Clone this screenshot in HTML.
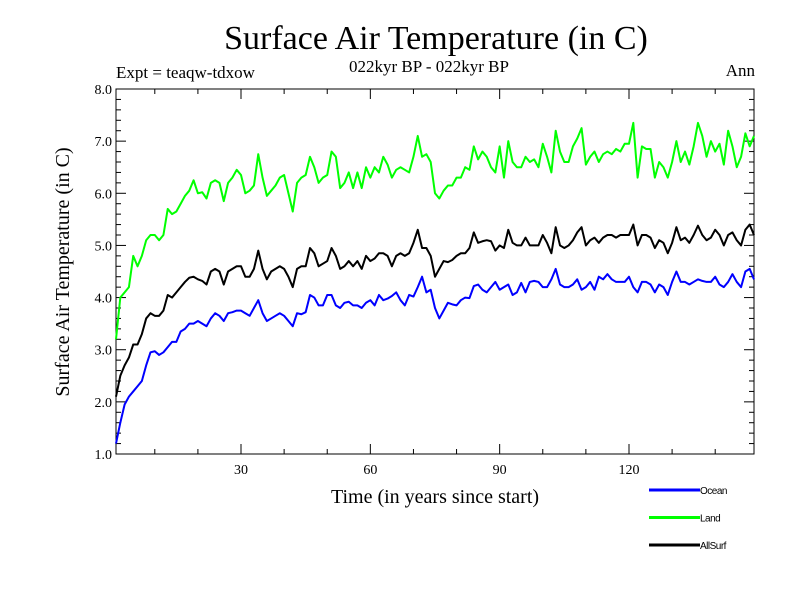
<!DOCTYPE html>
<html><head><meta charset="utf-8"><style>
body{margin:0;background:#fff}
svg text{font-family:"Liberation Serif",serif}
</style></head><body>
<svg id="chart" width="800" height="600" xmlns="http://www.w3.org/2000/svg">
<rect width="800" height="600" fill="#fff"/>
<text x="436" y="49" font-size="34" text-anchor="middle">Surface Air Temperature (in C)</text>
<text x="429" y="72" font-size="17" text-anchor="middle">022kyr BP - 022kyr BP</text>
<text x="116" y="78" font-size="17">Expt = teaqw-tdxow</text>
<text x="755" y="76" font-size="17" text-anchor="end">Ann</text>
<text x="435" y="503" font-size="20" text-anchor="middle">Time (in years since start)</text>
<text transform="translate(69,272) rotate(-90)" font-size="20" text-anchor="middle">Surface Air Temperature (in C)</text>
<g id="axes"></g>
<g id="series"></g>
<g id="legend"></g>
</svg>
<script>
const yTicks=["1.0","2.0","3.0","4.0","5.0","6.0","7.0","8.0"];
const xTicks=[30,60,90,120];
const seriesNames=["Ocean","Land","AllSurf"];
const ocean=[1.2,1.6,1.95,2.1,2.2,2.3,2.4,2.7,2.95,2.97,2.9,2.95,3.05,3.15,3.15,3.35,3.4,3.5,3.5,3.55,3.5,3.45,3.6,3.7,3.65,3.55,3.7,3.72,3.75,3.75,3.7,3.65,3.8,3.95,3.7,3.55,3.6,3.65,3.7,3.65,3.55,3.45,3.7,3.68,3.72,4.05,4.0,3.85,3.85,4.05,4.05,3.85,3.8,3.9,3.92,3.85,3.85,3.8,3.9,3.95,3.85,4.05,3.95,3.98,4.03,4.1,3.95,3.85,4.05,4.02,4.2,4.4,4.1,4.15,3.8,3.6,3.75,3.9,3.87,3.85,3.95,4.0,3.99,4.22,4.25,4.15,4.1,4.2,4.3,4.15,4.2,4.25,4.05,4.1,4.28,4.1,4.3,4.32,4.3,4.2,4.2,4.35,4.55,4.25,4.2,4.2,4.25,4.35,4.15,4.2,4.3,4.15,4.4,4.35,4.45,4.35,4.3,4.3,4.3,4.4,4.2,4.1,4.3,4.3,4.25,4.1,4.25,4.2,4.05,4.3,4.5,4.3,4.3,4.25,4.3,4.35,4.32,4.3,4.3,4.4,4.25,4.2,4.3,4.45,4.3,4.2,4.5,4.55,4.35];
const land=[3.2,4.0,4.1,4.2,4.8,4.6,4.8,5.1,5.2,5.2,5.1,5.2,5.7,5.6,5.65,5.8,5.95,6.05,6.25,6.0,6.02,5.9,6.2,6.25,6.2,5.85,6.2,6.3,6.45,6.35,6.0,6.05,6.15,6.75,6.3,5.95,6.05,6.15,6.3,6.35,6.0,5.65,6.2,6.3,6.35,6.7,6.5,6.2,6.3,6.35,6.8,6.7,6.1,6.2,6.4,6.1,6.4,6.1,6.5,6.3,6.5,6.4,6.7,6.55,6.3,6.45,6.5,6.45,6.4,6.7,7.1,6.7,6.75,6.6,6.0,5.9,6.05,6.15,6.15,6.3,6.3,6.5,6.45,6.9,6.65,6.8,6.7,6.5,6.4,6.9,6.3,7.0,6.6,6.5,6.5,6.7,6.6,6.65,6.5,6.95,6.7,6.4,7.2,6.8,6.6,6.6,6.9,7.05,7.25,6.55,6.7,6.8,6.6,6.75,6.8,6.75,6.85,6.8,6.95,6.95,7.35,6.3,6.9,6.85,6.85,6.3,6.6,6.5,6.3,6.6,7.0,6.6,6.8,6.55,6.9,7.35,7.1,6.7,7.0,6.8,6.95,6.55,7.2,6.9,6.5,6.7,7.15,6.9,7.1];
const allsurf=[2.1,2.5,2.7,2.85,3.1,3.1,3.3,3.6,3.7,3.65,3.65,3.75,4.05,4.0,4.1,4.2,4.3,4.38,4.4,4.35,4.32,4.25,4.5,4.55,4.5,4.25,4.5,4.55,4.6,4.6,4.4,4.4,4.55,4.9,4.55,4.35,4.5,4.55,4.6,4.55,4.4,4.2,4.55,4.6,4.6,4.95,4.85,4.6,4.65,4.7,4.95,4.8,4.55,4.6,4.7,4.6,4.7,4.55,4.8,4.7,4.75,4.85,4.85,4.8,4.6,4.8,4.85,4.8,4.85,5.05,5.3,4.95,4.95,4.8,4.4,4.55,4.7,4.68,4.72,4.8,4.85,4.85,4.95,5.25,5.05,5.08,5.1,5.08,4.9,5.0,4.95,5.3,5.05,5.0,5.0,5.15,5.0,5.0,5.0,5.2,5.05,4.85,5.35,5.0,4.95,5.0,5.1,5.25,5.35,5.0,5.1,5.15,5.05,5.15,5.2,5.2,5.15,5.2,5.2,5.2,5.4,5.0,5.2,5.2,5.15,4.95,5.1,5.05,4.85,5.05,5.35,5.1,5.15,5.05,5.2,5.38,5.2,5.1,5.15,5.3,5.2,5.0,5.2,5.25,5.1,5.0,5.3,5.4,5.2];

const NS="http://www.w3.org/2000/svg";
const L=116,R=754,T=89,B=454;
function xs(t){return L+(t-1)*(R-L)/148;}
function ys(v){return B-(v-1)*(B-T)/7;}
function mk(tag,attrs,parent){const e=document.createElementNS(NS,tag);for(const k in attrs)e.setAttribute(k,attrs[k]);parent.appendChild(e);return e;}
const ax=document.getElementById('axes');
const frame=mk('rect',{x:L,y:T,width:R-L,height:B-T,fill:'none',stroke:'#000','stroke-width':1},ax);


// y ticks
for(let v=1;v<=8.001;v+=0.2){
  const major=Math.abs(v-Math.round(v))<0.01;
  const len=major?10:5;const y=ys(v);
  const t1=mk('line',{x1:L,x2:L+len,y1:y,y2:y,stroke:'#000'},ax);
  
  
  const t2=mk('line',{x1:R-len,x2:R,y1:y,y2:y,stroke:'#000'},ax);
  
  
}
yTicks.forEach(s=>{
  const t=mk('text',{x:L-4,y:ys(parseFloat(s))+5,'font-size':14,'text-anchor':'end'},ax);
  t.textContent=s;
  
  
});
for(let t=10;t<=149;t+=10){
  const major=t%30===0;const len=major?10:5;const x=xs(t);
  const a=mk('line',{x1:x,x2:x,y1:B,y2:B-len,stroke:'#000'},ax);
  
  
  const b=mk('line',{x1:x,x2:x,y1:T,y2:T+len,stroke:'#000'},ax);
  
  
}
xTicks.forEach(v=>{
  const t=mk('text',{x:xs(v),y:B+20,'font-size':14,'text-anchor':'middle'},ax);
  t.textContent=v;
  
  
});
const sg=document.getElementById('series');
const data=[ocean,land,allsurf];const cols=['#0000ff','#00ff00','#000000'];
data.forEach((arr,i)=>{
  const d=arr.map((v,j)=>(j?'L':'M')+xs(j+1).toFixed(2)+','+ys(v).toFixed(2)).join('');
  const p=mk('path',{d:d,fill:'none',stroke:cols[i],'stroke-width':2,'stroke-linejoin':'round'},sg);
  
  
});
const lg=document.getElementById('legend');
seriesNames.forEach((n,i)=>{
  const y=490+i*27.5;
  const l=mk('line',{x1:649,x2:700,y1:y,y2:y,stroke:cols[i],'stroke-width':3},lg);
  
  
  const t=mk('text',{x:700,y:y+4,'font-size':10,style:'font-family:"Liberation Sans",sans-serif;letter-spacing:-0.5px'},lg);
  t.textContent=n;
  
  
});
</script>
</body></html>
